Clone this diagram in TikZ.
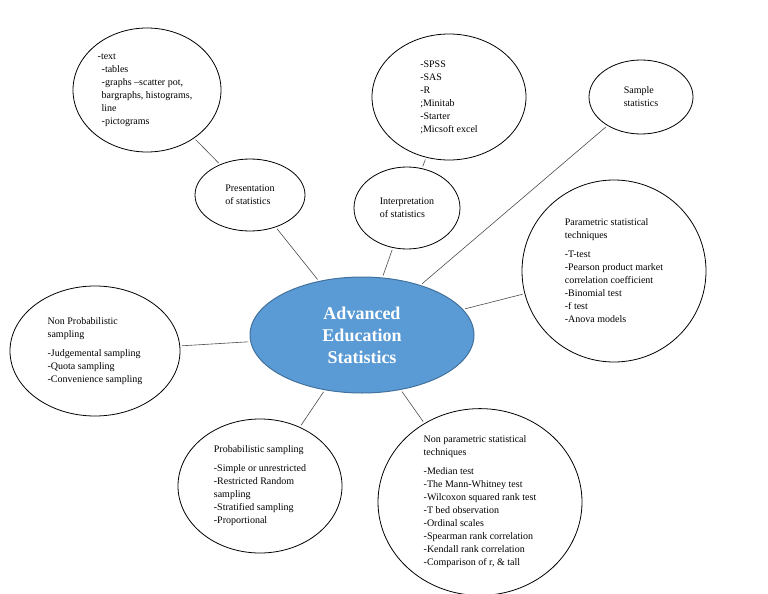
\documentclass[tikz,border=0pt]{standalone}
\usepackage{fontspec}
\setmainfont{Liberation Serif}
\usetikzlibrary{shapes.geometric}
\begin{document}
\begin{tikzpicture}[x=1pt,y=-1pt,
  bub/.style={ellipse,draw=black,line width=0.8pt,inner sep=0pt,align=left,font=\fontsize{10}{13}\selectfont},
  con/.style={draw=black!70,line width=0.6pt,shorten >=2pt,shorten <=2pt}]
\useasboundingbox (0,0) rectangle (768,594);
\node[ellipse,fill={rgb,255:red,91;green,155;blue,213},draw={rgb,255:red,65;green,113;blue,156},line width=1pt,minimum width=224pt,minimum height=116pt,align=center,text=white,font=\fontsize{18}{22}\selectfont\bfseries] (c) at (362,335) {Advanced\\Education\\Statistics};
\node[bub,minimum width=148pt,minimum height=124pt] (t) at (147,90) {\hspace*{-4pt}-text\\-tables\\-graphs --scatter pot,\\bargraphs, histograms,\\line\\-pictograms};
\node[bub,minimum width=110pt,minimum height=72pt] (p) at (250,195) {Presentation\\of statistics};
\node[bub,minimum width=154pt,minimum height=126pt] (s) at (449,97) {-SPSS\\-SAS\\-R\\;Minitab\\-Starter\\;Micsoft excel};
\node[bub,minimum width=106pt,minimum height=82pt] (i) at (407,208) {Interpretation\\of statistics};
\node[bub,minimum width=104pt,minimum height=74pt] (ss) at (641,97) {Sample\\statistics};
\node[bub,minimum width=184pt,minimum height=182pt] (pa) at (614,271) {Parametric statistical\\techniques\\[6pt]-T-test\\-Pearson product market\\correlation coefficient\\-Binomial test\\-f test\\-Anova models};
\node[bub,minimum width=170pt,minimum height=130pt] (np) at (95,351) {Non Probabilistic\\sampling\\[6pt]-Judgemental sampling\\-Quota sampling\\-Convenience sampling};
\node[bub,minimum width=164pt,minimum height=134pt] (pr) at (260,486) {Probabilistic sampling\\[6pt]-Simple or unrestricted\\-Restricted Random\\sampling\\-Stratified sampling\\-Proportional};
\node[bub,minimum width=204pt,minimum height=184pt] (nps) at (480,502) {Non parametric statistical\\techniques\\[6pt]-Median test\\-The Mann-Whitney test\\-Wilcoxon squared rank test\\-T bed observation\\-Ordinal scales\\-Spearman rank correlation\\-Kendall rank correlation\\-Comparison of r, \& tall};
\draw[con] (t) -- (p);
\draw[con] (p) -- (c);
\draw[con] (s) -- (i);
\draw[con] (i) -- (c);
\draw[con] (ss) -- (c);
\draw[con] (pa) -- (c);
\draw[con] (np) -- (c);
\draw[con] (pr) -- (c);
\draw[con] (nps) -- (c);
\end{tikzpicture}
\end{document}
